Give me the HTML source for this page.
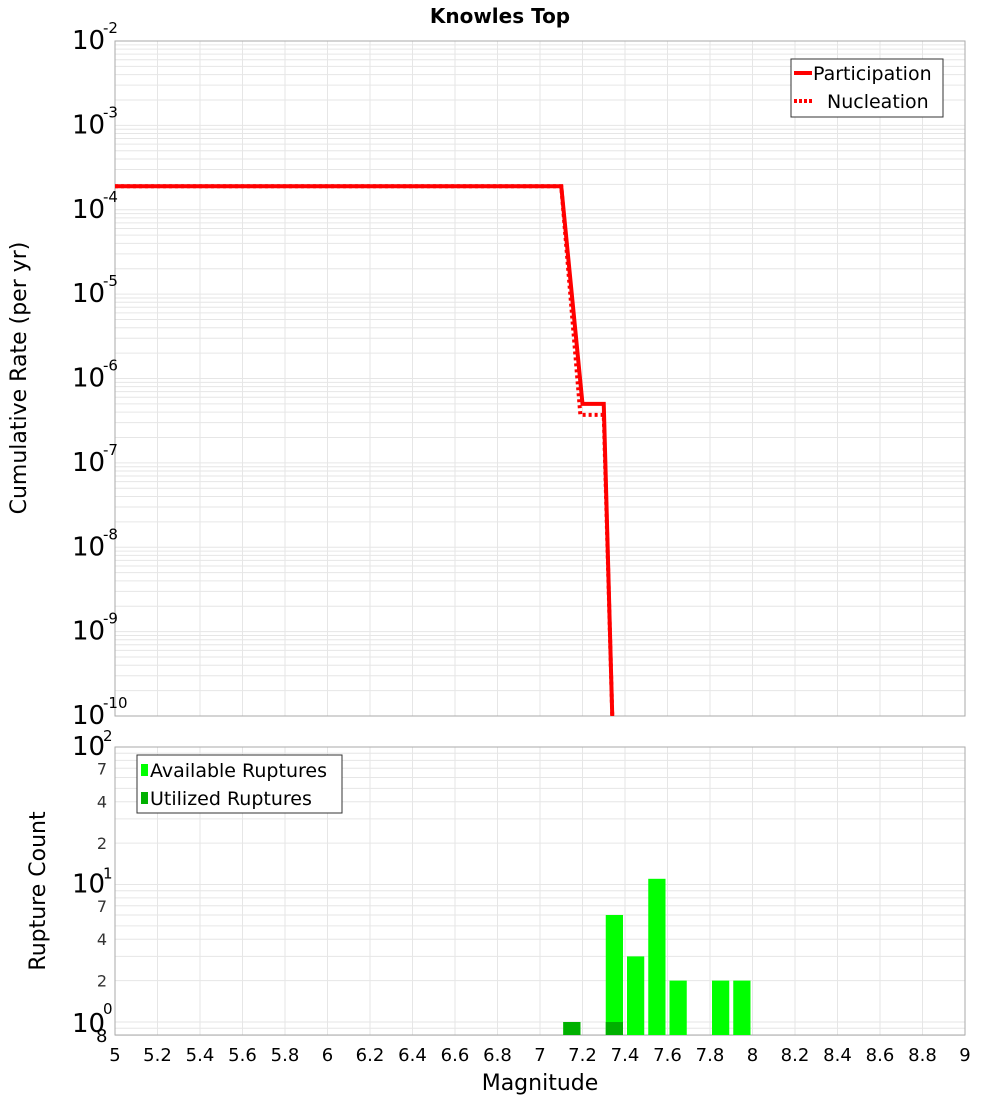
<!DOCTYPE html>
<html><head><meta charset="utf-8"><style>
body{margin:0;background:#fff;font-family:"Liberation Sans","DejaVu Sans",sans-serif}
</style></head><body>
<svg id="c" width="1000" height="1100" xmlns="http://www.w3.org/2000/svg" font-family="DejaVu Sans, Liberation Sans, sans-serif">
<text x="500" y="23" text-anchor="middle" font-weight="bold" font-size="20">Knowles Top</text>
<g id="gtop"></g>
<g id="gbot"></g>
<text transform="translate(26,378) rotate(-90)" text-anchor="middle" font-size="22">Cumulative Rate (per yr)</text>
<text transform="translate(45,891) rotate(-90)" text-anchor="middle" font-size="22">Rupture Count</text>
<text x="540" y="1090" text-anchor="middle" font-size="22">Magnitude</text>
</svg>
<script>
const partMag=[5,7.1,7.2,7.3,7.34];
const partRate=[1.9e-4,1.9e-4,5e-7,5e-7,1e-10];
const nuclMag=[5,7.1,7.19,7.285,7.3,7.34];
const nuclRate=[1.9e-4,1.9e-4,3.7e-7,3.7e-7,3.7e-7,1e-10];
const binStart=[7.1,7.3,7.4,7.5,7.6,7.8,7.9];
const availCount=[1,6,3,11,2,2,2];
const utilBin=[7.1,7.3];
const utilCount=[1,1];
const xTicks=[5,5.2,5.4,5.6,5.8,6,6.2,6.4,6.6,6.8,7,7.2,7.4,7.6,7.8,8,8.2,8.4,8.6,8.8,9];
const NS='http://www.w3.org/2000/svg';
const X0=115,X1=965;
const x=m=>X0+(m-5)/4*(X1-X0);
const T0=41,T1=716; const yT=v=>T0+(-2-Math.log10(v))/8*(T1-T0);
const B0=747,B1=1035; const yB=v=>B0+(2-Math.log10(v))*137.5;
function mk(p,t,a,txt){const e=document.createElementNS(NS,t);for(const k in a)e.setAttribute(k,a[k]);if(txt!==undefined)e.textContent=txt;p.appendChild(e);return e;}
const gTop=document.getElementById('gtop'),gBot=document.getElementById('gbot');
for(const [g,ya,yb,dmin,dmax,yf] of [[gTop,T0,T1,-10,-2,yT],[gBot,B0,B1,-1,2,yB]]){
  for(let d=dmin;d<dmax;d++)for(let k=1;k<10;k++){const v=k*Math.pow(10,d);const yy=yf(v);if(yy<ya-0.5||yy>yb+0.5)continue;
    const l=mk(g,'line',{x1:X0,x2:X1,y1:yy,y2:yy,stroke:'#e6e6e6','stroke-width':1});
    
    }
  xTicks.forEach(m=>{const l=mk(g,'line',{x1:x(m),x2:x(m),y1:ya,y2:yb,stroke:'#e6e6e6','stroke-width':1});
    
    });
  const r=mk(g,'rect',{x:X0,y:ya,width:X1-X0,height:yb-ya,fill:'none',stroke:'#aaa'});
  
  
}
for(let d=-10;d<=-2;d++){const yy=yT(Math.pow(10,d));
  const t=mk(gTop,'text',{x:72,y:yy+8,'font-size':26},'10');
  
  
  const s=mk(gTop,'text',{x:103,y:yy-8,'font-size':15},String(d));
  
  }
function pl(ms,rs,dash,name){const pts=ms.map((m,i)=>x(m)+','+yT(rs[i])).join(' ');
  const p=mk(gTop,'polyline',{points:pts,fill:'none',stroke:'#f00','stroke-width':4});
  if(dash)p.setAttribute('stroke-dasharray','3,3');
  
  }
pl(nuclMag,nuclRate,true,'nucleation-line');
pl(partMag,partRate,false,'participation-line');
const lg=mk(gTop,'g',{});


mk(lg,'rect',{x:791,y:59,width:152,height:58,fill:'#fff',stroke:'#333'});
mk(lg,'line',{x1:794,x2:812,y1:73,y2:73,stroke:'#f00','stroke-width':4});
mk(lg,'line',{x1:794,x2:812,y1:101,y2:101,stroke:'#f00','stroke-width':4,'stroke-dasharray':'3,2'});
mk(lg,'text',{x:813,y:80,'font-size':19},'Participation');
mk(lg,'text',{x:827,y:108,'font-size':19},'Nucleation');
[[2,'10','2'],[1,'10','1']].forEach(([d,b,e])=>{const yy=yB(Math.pow(10,d));
  const t=mk(gBot,'text',{x:72,y:yy+8,'font-size':26},b);
  const s=mk(gBot,'text',{x:103,y:yy-6,'font-size':15},e);});
{const yy=yB(1);const t=mk(gBot,'text',{x:72,y:yy+10,'font-size':26},'10');
 const s=mk(gBot,'text',{x:103,y:yy-8,'font-size':15},'0');
 const e=mk(gBot,'text',{x:96,y:1042,'font-size':18},'8');}
[7,4,2].forEach(k=>[10,1].forEach(d=>{const t=mk(gBot,'text',{x:107,y:yB(k*d)+6,'font-size':16,'text-anchor':'end',fill:'#333'},String(k));
  }));
binStart.forEach((m,i)=>{const yy=yB(availCount[i]);
  const r=mk(gBot,'rect',{x:x(m)+2,y:yy,width:x(m+0.1)-x(m)-4,height:B1-yy,fill:'#00ff00'});
  });
utilBin.forEach((m,i)=>{const yy=yB(utilCount[i]);
  const r=mk(gBot,'rect',{x:x(m)+2,y:yy,width:x(m+0.1)-x(m)-4,height:B1-yy,fill:'#00b000'});
  });
xTicks.forEach(m=>{const t=mk(gBot,'text',{x:x(m),y:1061,'font-size':18,'text-anchor':'middle'},String(m));
  });
const lb=mk(gBot,'g',{});


mk(lb,'rect',{x:137,y:755,width:205,height:58,fill:'#fff',stroke:'#333'});
mk(lb,'rect',{x:141,y:764,width:7,height:12,fill:'#00ff00'});
mk(lb,'rect',{x:141,y:792,width:7,height:12,fill:'#00b000'});
mk(lb,'text',{x:150,y:777,'font-size':19},'Available Ruptures');
mk(lb,'text',{x:150,y:805,'font-size':19},'Utilized Ruptures');
</script>
</body></html>
